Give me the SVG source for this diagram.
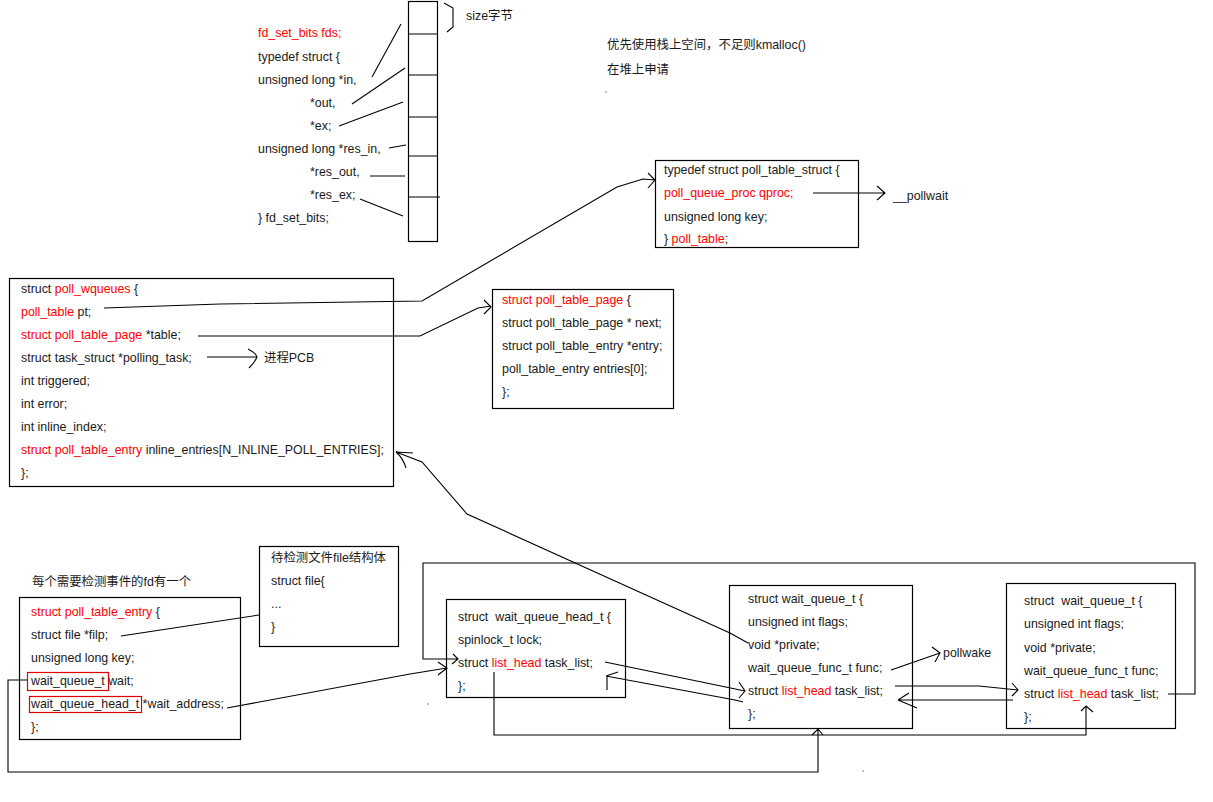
<svg xmlns="http://www.w3.org/2000/svg" width="1213" height="802" viewBox="0 0 1213 802">
<style>
text{font-family:"Liberation Sans","Noto Sans CJK SC",sans-serif;font-size:12.4px;fill:#1a1a1a}
.r{fill:#ff0000}
.box{fill:none;stroke:#000;stroke-width:1.2}
.rb{fill:none;stroke:#e00000;stroke-width:1.2}
.ln{fill:none;stroke:#000;stroke-width:1.1}
</style>
<rect width="1213" height="802" fill="#fff"/>

<g id="fd-set-bits">
<text x="258" y="37" class="r">fd_set_bits fds;</text>
<text x="258" y="61">typedef struct {</text>
<text x="258" y="84">unsigned long *in,</text>
<text x="310" y="107">*out,</text>
<text x="310" y="130">*ex;</text>
<text x="258" y="153">unsigned long *res_in,</text>
<text x="310" y="176">*res_out,</text>
<text x="310" y="199">*res_ex;</text>
<text x="258" y="222">} fd_set_bits;</text>
</g>

<g id="bit-array">
<rect x="408.5" y="1.5" width="29" height="240" class="box"/>
<path d="M408 34H437M408 75H437M408 117H437M408 156H437M408 197H440" class="ln"/>
<path d="M444 3L453 8V27L447 32" class="ln"/>
<text x="466" y="20">size字节</text>
</g>

<g id="stack-note">
<text x="607" y="49">优先使用栈上空间，不足则kmalloc()</text>
<text x="607" y="74">在堆上申请</text>
<rect x="605.5" y="91.5" width="1" height="1" fill="#000"/>
</g>

<g id="poll-table-struct">
<rect x="655.5" y="160.5" width="203" height="87" class="box"/>
<text x="664" y="174">typedef struct poll_table_struct {</text>
<text x="664" y="197" class="r">poll_queue_proc qproc;</text>
<text x="664" y="221">unsigned long key;</text>
<text x="664" y="243">} <tspan class="r">poll_table</tspan>;</text>
</g>

<g id="pollwait">
<text x="893" y="200">__pollwait</text>
</g>

<g id="poll-wqueues">
<rect x="9.5" y="278.5" width="384" height="208" class="box"/>
<text x="21" y="293">struct <tspan class="r">poll_wqueues</tspan> {</text>
<text x="21" y="316"><tspan class="r">poll_table</tspan> pt;</text>
<text x="21" y="339"><tspan class="r">struct poll_table_page</tspan> *table;</text>
<text x="21" y="362">struct task_struct *polling_task;</text>
<text x="21" y="385">int triggered;</text>
<text x="21" y="408">int error;</text>
<text x="21" y="431">int inline_index;</text>
<text x="21" y="454"><tspan class="r">struct poll_table_entry</tspan> inline_entries[N_INLINE_POLL_ENTRIES];</text>
<text x="21" y="477">};</text>
</g>

<g id="pcb">
<text x="264" y="362">进程PCB</text>
</g>

<g id="poll-table-page">
<rect x="492.5" y="289.5" width="181" height="119" class="box"/>
<text x="502" y="304"><tspan class="r">struct poll_table_page</tspan> {</text>
<text x="502" y="327">struct poll_table_page * next;</text>
<text x="502" y="350">struct poll_table_entry *entry;</text>
<text x="502" y="373">poll_table_entry entries[0];</text>
<text x="502" y="396">};</text>
</g>

<g id="fd-note">
<text x="32" y="586">每个需要检测事件的fd有一个</text>
</g>

<g id="poll-table-entry">
<rect x="19.5" y="597.5" width="221" height="142" class="box"/>
<text x="31" y="616"><tspan class="r">struct poll_table_entry</tspan> {</text>
<text x="31" y="639">struct file *filp;</text>
<text x="31" y="662">unsigned long key;</text>
<text x="31" y="685">wait_queue_t wait;</text>
<text x="31" y="708">wait_queue_head_t *wait_address;</text>
<text x="31" y="731">};</text>
<rect x="27.5" y="672.5" width="81" height="18" class="rb"/>
<rect x="29.5" y="696.5" width="112" height="16" class="rb"/>
</g>

<g id="file-struct">
<rect x="259.5" y="546.5" width="139" height="100" class="box"/>
<text x="271" y="562">待检测文件file结构体</text>
<text x="271" y="585">struct file{</text>
<text x="271" y="608">...</text>
<text x="271" y="631">}</text>
</g>

<g id="wait-queue-head">
<rect x="446.5" y="599.5" width="179" height="98" class="box"/>
<text x="458" y="621" xml:space="preserve">struct  wait_queue_head_t {</text>
<text x="458" y="644">spinlock_t lock;</text>
<text x="458" y="667">struct <tspan class="r">list_head</tspan> task_list;</text>
<text x="458" y="690">};</text>
</g>

<g id="wait-queue-t1">
<rect x="729.5" y="585.5" width="183" height="143" class="box"/>
<text x="748" y="603">struct wait_queue_t {</text>
<text x="748" y="626">unsigned int flags;</text>
<text x="748" y="649">void *private;</text>
<text x="748" y="672">wait_queue_func_t func;</text>
<text x="748" y="695">struct <tspan class="r">list_head</tspan> task_list;</text>
<text x="748" y="718">};</text>
</g>

<g id="pollwake">
<text x="943" y="657">pollwake</text>
</g>

<g id="wait-queue-t2">
<rect x="1006.5" y="583.5" width="169" height="145" class="box"/>
<text x="1024" y="605" xml:space="preserve">struct  wait_queue_t {</text>
<text x="1024" y="628">unsigned int flags;</text>
<text x="1024" y="652">void *private;</text>
<text x="1024" y="675">wait_queue_func_t func;</text>
<text x="1024" y="698">struct <tspan class="r">list_head</tspan> task_list;</text>
<text x="1024" y="721">};</text>
</g>

<g id="connectors">
<path d="M372 77L401 24" class="ln"/>
<path d="M352 104L405 68" class="ln"/>
<path d="M339 126L403 102" class="ln"/>
<path d="M389 148L406 145" class="ln"/>
<path d="M370 176H405" class="ln"/>
<path d="M360 199L403 216" class="ln"/>
<path d="M813 193H885M877 186L885 193L877 200" class="ln"/>
<path d="M104 308L220 304L422 301L617 187L643 179L655 180M648 173L655 180L648 188" class="ln"/>
<path d="M198 336H420L478 308L491 306M484 300L491 307L484 314" class="ln"/>
<path d="M207 357H257M248 349Q256 353 257 357Q255 362 249 368" class="ln"/>
<path d="M748 643L730 633L467 514L422 462L396 452M396 452L413 453M396 452Q403 458 406 468" class="ln"/>
<path d="M121 636L259 615" class="ln"/>
<path d="M227 708L410 674L447 668M438 662L447 668L438 675" class="ln"/>
<path d="M1168 694H1195V563H423V659H458M453 654L458 659L452 664" class="ln"/>
<path d="M605 662L745 691M739 682L745 691L739 698" class="ln"/>
<path d="M743 702L735 700L606 676M606 676L618 672M607 676V690" class="ln"/>
<path d="M891 670L940 653M932 647L940 653L935 662" class="ln"/>
<path d="M895 686H979L1018 690M1012 683L1018 690L1012 696" class="ln"/>
<path d="M1013 700H898M898 700L909 693M898 700L917 708" class="ln"/>
<path d="M494 672V735H1086V706M1081 711L1086 706L1093 712" class="ln"/>
<path d="M27 680H8V772H818V729M812 735L818 729L823 735" class="ln"/>
<rect x="427.5" y="703.5" width="1" height="1" fill="#000"/>
<rect x="862.5" y="770.5" width="1" height="1" fill="#000"/>
</g>
</svg>
